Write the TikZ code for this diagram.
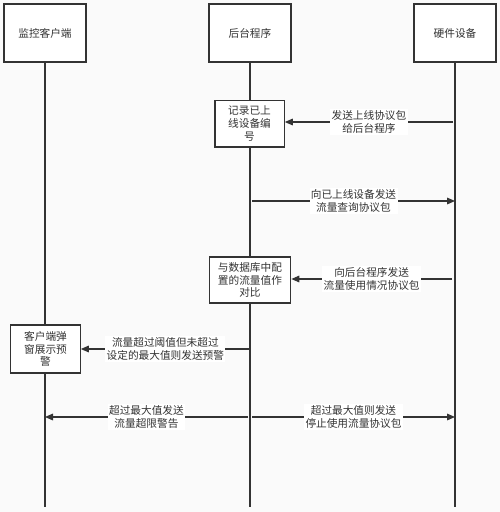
\documentclass[tikz,border=0pt]{standalone}
\usepackage{fontspec}
\newfontfamily\cjk{Noto Sans CJK SC}
\usetikzlibrary{arrows.meta}

\begin{document}
\begin{tikzpicture}[x=0.75pt,y=0.75pt,yscale=-1,xscale=1,
  every node/.style={font=\cjk\fontsize{8}{9.6}\selectfont,text=black!80,align=center},
  headbox/.style={draw=black!80,line width=1pt,fill=white,minimum width=61.5pt,minimum height=43.5pt},
  actbox/.style={draw=black!80,line width=1pt,fill=white,inner sep=2pt},
  msg/.style={draw=black!80,line width=0.8pt,-{Triangle[length=6pt,width=5pt]}},
  lbl/.style={fill=white,inner sep=1pt}]
\useasboundingbox (0,0) rectangle (500,512);
\fill[black!2] (0,0) rectangle (500,512);

%Shape: Rectangle
\node[headbox] (client) at (45,33) {监控客户端};
%Shape: Rectangle
\node[headbox] (server) at (250,33) {后台程序};
%Shape: Rectangle
\node[headbox] (device) at (455,33) {硬件设备};

%Lifelines
\coordinate (clientend) at (45,507);
\coordinate (serverend) at (250,507);
\coordinate (deviceend) at (455,507);
\draw[black!80,line width=1pt] (client.south) -- (clientend);
\draw[black!80,line width=1pt] (server.south) -- (serverend);
\draw[black!80,line width=1pt] (device.south) -- (deviceend);

%Shape: Rectangle
\node[actbox,minimum width=52pt,minimum height=35pt] (record) at (249.5,123.5) {记录已上\\线设备编\\号};
%Shape: Rectangle
\node[actbox,minimum width=61pt,minimum height=34.5pt] (compare) at (250,280) {与数据库中配\\置的流量值作\\对比};
%Shape: Rectangle
\node[actbox,minimum width=52pt,minimum height=36pt] (popup) at (45.5,349) {客户端弹\\窗展示预\\警};

%Message points
\coordinate (d1) at (453,122);
\coordinate (s2) at (252,201);
\coordinate (d2) at (455,201);
\coordinate (d3) at (452,279);
\coordinate (s4) at (250,349);
\coordinate (s5) at (248,417);
\coordinate (c5) at (45,417);
\coordinate (s6) at (252,417);
\coordinate (d6) at (455,417);

% Arrows
\draw[msg] (d1) -- (d1 -| record.east) node[midway,lbl] {发送上线协议包\\给后台程序};
\draw[msg] (s2) -- (d2) node[midway,lbl] {向已上线设备发送\\流量查询协议包};
\draw[msg] (d3) -- (d3 -| compare.east) node[midway,lbl] {向后台程序发送\\流量使用情况协议包};
\draw[msg] (s4) -- (s4 -| popup.east) node[midway,lbl] {流量超过阈值但未超过\\设定的最大值则发送预警};
\draw[msg] (s5) -- (c5) node[midway,lbl] {超过最大值发送\\流量超限警告};
\draw[msg] (s6) -- (d6) node[midway,lbl] {超过最大值则发送\\停止使用流量协议包};

\end{tikzpicture}
\end{document}
